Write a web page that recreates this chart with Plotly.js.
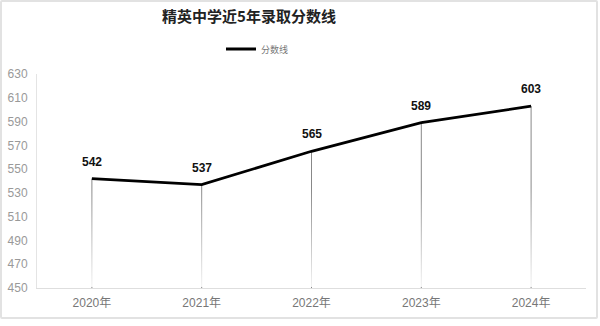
<!DOCTYPE html>
<html>
<head>
<meta charset="utf-8">
<script src="https://cdn.plot.ly/plotly-3.0.1.min.js"></script>
<style>
  html, body { margin: 0; padding: 0; background: #fff; }
  #frame { position: absolute; left: 0; top: 0; width: 594px; height: 315px; border: 2px solid #e2e2e2; border-radius: 2px; }
  #chart { position: absolute; left: 0; top: 0; width: 600px; height: 326px; }
</style>
</head>
<body>
<div id="frame"></div>
<div id="chart"></div>
<script>
const years = ['2020年', '2021年', '2022年', '2023年', '2024年'];
const scores = [542, 537, 565, 589, 603];
const seriesName = '分数线';
const chartTitle = '精英中学近5年录取分数线';
const yMin = 450, yMax = 630, yStep = 20;

const FONT = '"Liberation Sans", "Noto Sans CJK SC", Arial, sans-serif';

// vertical drop lines from each point to the axis floor
const dropTrace = {
  x: years,
  y: scores,
  type: 'scatter',
  mode: 'markers',
  marker: { size: 1, color: 'rgba(0,0,0,0)' },
  error_y: {
    type: 'data',
    symmetric: false,
    array: scores.map(() => 0),
    arrayminus: scores.map(v => v - yMin),
    color: '#888',
    thickness: 1,
    width: 0
  },
  showlegend: false,
  hoverinfo: 'skip'
};

const lineTrace = {
  x: years,
  y: scores,
  type: 'scatter',
  mode: 'lines',
  name: seriesName,
  line: { color: '#000', width: 2.8 },
  hoverinfo: 'x+y'
};

const labelAnnotations = years.map((yr, i) => ({
  x: yr, y: scores[i], xref: 'x', yref: 'y',
  text: '<b>' + scores[i] + '</b>',
  showarrow: false,
  yanchor: 'middle',
  yshift: 17,
  font: { family: FONT, size: 12, color: '#111' }
}));

const fadeSvg = '<svg xmlns="http://www.w3.org/2000/svg" width="10" height="100" preserveAspectRatio="none">' +
  '<defs><linearGradient id="g" x1="0" y1="0" x2="0" y2="1">' +
  '<stop offset="0" stop-color="#fff" stop-opacity="0"/>' +
  '<stop offset="1" stop-color="#fff" stop-opacity="0.9"/>' +
  '</linearGradient></defs><rect width="10" height="100" fill="url(#g)"/></svg>';

const layout = {
  width: 600,
  height: 326,
  margin: { l: 37, r: 14, t: 74, b: 38 },
  paper_bgcolor: 'rgba(0,0,0,0)',
  plot_bgcolor: 'rgba(0,0,0,0)',
  font: { family: FONT, size: 12, color: '#888' },
  title: {
    text: '<b>' + chartTitle + '</b>',
    xref: 'container', yref: 'container',
    x: 249 / 600, xanchor: 'center',
    y: 1 - 17 / 326, yanchor: 'middle',
    font: { family: '"Noto Sans CJK SC", "Liberation Sans", sans-serif', size: 15, color: '#222' }
  },
  showlegend: true,
  legend: {
    orientation: 'h',
    x: 221 / 600, xref: 'container', xanchor: 'left',
    y: 1 - 49 / 326, yref: 'container', yanchor: 'middle',
    font: { family: '"Noto Sans CJK SC", sans-serif', size: 9, color: '#777' },
    bgcolor: 'rgba(0,0,0,0)'
  },
  xaxis: {
    type: 'category',
    range: [-0.5, years.length - 0.5],
    showgrid: false,
    zeroline: false,
    showline: true,
    linecolor: '#dedede',
    linewidth: 1,
    ticks: '',
    ticklabelstandoff: 4,
    tickfont: { family: FONT, size: 12, color: '#777' },
    fixedrange: true
  },
  yaxis: {
    range: [yMin, yMax],
    tick0: yMin,
    dtick: yStep,
    showgrid: false,
    zeroline: false,
    showline: true,
    linecolor: '#e4e4e4',
    linewidth: 1,
    ticks: '',
    ticklabelstandoff: 6,
    tickfont: { family: FONT, size: 12, color: '#999' },
    fixedrange: true
  },
  annotations: labelAnnotations,
  images: [{
    source: 'data:image/svg+xml;charset=utf-8,' + encodeURIComponent(fadeSvg),
    xref: 'paper', yref: 'paper',
    x: 0.01, y: 0.47,
    sizex: 0.99, sizey: 0.465,
    xanchor: 'left', yanchor: 'top',
    sizing: 'stretch',
    layer: 'above'
  }]
};

Plotly.newPlot('chart', [dropTrace, lineTrace], layout, { displayModeBar: false, staticPlot: true });
</script>
</body>
</html>
